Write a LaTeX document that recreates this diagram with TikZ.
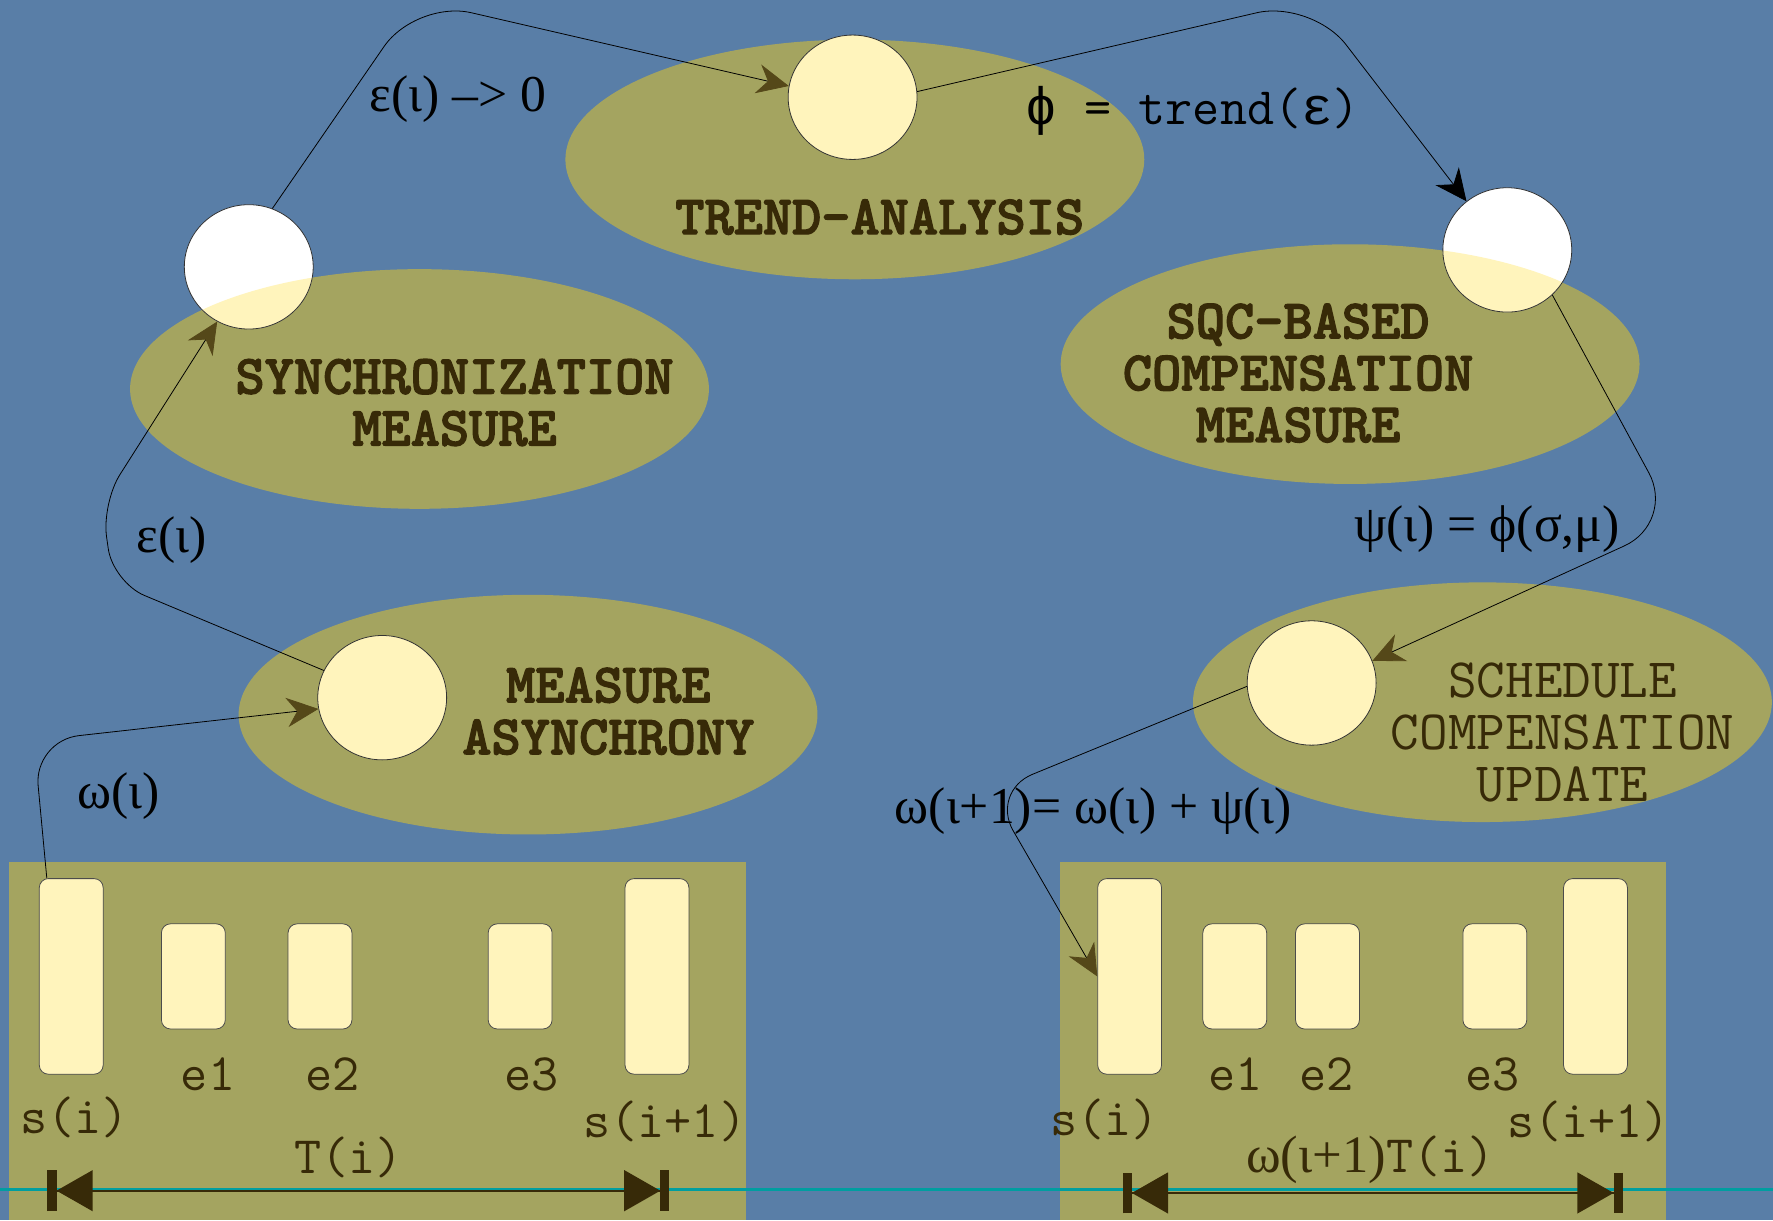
\documentclass[tikz,border=0pt]{standalone}
\usepackage{fontspec}
\setmainfont{Liberation Serif}
\newfontfamily\greekmono{Liberation Mono}
\newfontfamily\titlefont[FakeBold=2.2]{lmmonolt10-bold.otf}
\usetikzlibrary{shapes.geometric,arrows.meta}
\definecolor{slate}{RGB}{89,126,167}
\definecolor{khaki}{RGB}{215,190,50}
\definecolor{pale}{RGB}{255,244,188}
\definecolor{ink}{RGB}{55,42,8}
\definecolor{olivetip}{RGB}{85,72,25}
\definecolor{tealline}{RGB}{0,158,160}

\begin{document}
\begin{tikzpicture}[x=0.02cm,y=-0.02cm,
  blob/.style={ellipse,fill=khaki,fill opacity=0.6,minimum width=10.24cm,minimum height=4.24cm,inner sep=0},
  band/.style={rectangle,fill=khaki,fill opacity=0.6,minimum height=6.34cm,inner sep=0},
  hub/.style={ellipse,draw=black!80,thin,fill=pale,minimum width=2.28cm,minimum height=2.2cm,inner sep=0},
  slot/.style={rectangle,draw=black!70,fill=pale,rounded corners=0.16cm,inner sep=0,minimum width=1.13cm,minimum height=1.86cm},
  tall/.style={slot,minimum height=3.46cm},
  flow/.style={black,thin,rounded corners=1cm,-{Stealth[length=0.56cm,width=0.52cm,color=#1]}},
  flow/.default=olivetip,
  extent/.style={ink,line width=0.04cm,{Bar[width=0.72cm,line width=0.16cm]Triangle[length=0.64cm,width=0.72cm]}-{Triangle[length=0.64cm,width=0.72cm]Bar[width=0.72cm,line width=0.16cm]}},
  tag/.style={font=\fontsize{26}{30}\selectfont},
  monotag/.style={font=\ttfamily\fontsize{26.5}{30}\selectfont},
  title/.style={font=\titlefont\fontsize{28}{26.1}\selectfont,text=ink,align=center},
  slotlabel/.style={font=\ttfamily\fontsize{26.5}{30}\selectfont,text=ink}]
\useasboundingbox (0,0) rectangle (1568,1079);
\clip (0,0) rectangle (1568,1079);
\fill [slate] (0,0) rectangle (1568,1079);

\node[band,minimum width=13.04cm] (leftband) at (334,920.5) {};
\node[band,minimum width=10.72cm] (rightband) at (1205,920.5) {};
\node[blob] (trendblob) at (756,141) {};
\node[blob] (syncblob) at (371,344) {};
\node[blob] (sqcblob) at (1194,322) {};
\node[blob] (asyblob) at (467,632) {};
\node[blob] (schedblob) at (1311,621) {};

\node[hub] (trendhub) at (754,86) {};
\node[hub,fill=white,path picture={\fill[pale] (syncblob) ellipse [x radius=5.12cm,y radius=2.12cm];}] (synchub) at (220,236) {};
\node[hub,fill=white,path picture={\fill[pale] (sqcblob) ellipse [x radius=5.14cm,y radius=2.12cm];}] (sqchub) at (1333,221) {};
\node[hub] (asyhub) at (338,617) {};
\node[hub] (schedhub) at (1160,604) {};

\node[tall] (lsi) at (63,863.5) {};
\node[slot] (le1) at (171,863.5) {};
\node[slot] (le2) at (283,863.5) {};
\node[slot] (le3) at (460,863.5) {};
\node[tall] (lsn) at (581,863.5) {};
\node[tall] (rsi) at (999,863.5) {};
\node[slot] (re1) at (1092,863.5) {};
\node[slot] (re2) at (1174,863.5) {};
\node[slot] (re3) at (1322,863.5) {};
\node[tall] (rsn) at (1411,863.5) {};

\draw[flow,rounded corners=0.8cm] ([xshift=0.14cm]lsi.north west) -- (30,655) -- (asyhub.190);
\draw[flow,rounded corners=0.6cm] (asyhub.155) -- (100,515) -- (90,445) -- (synchub.240);
\draw[flow] (synchub.68) -- (368,0) -- (trendhub.170);
\draw[flow=black] (trendhub.5) -- (1160,0) -- (sqchub.130);
\draw[flow] (sqchub.-45) -- (1482,462) -- (schedhub.20);
\draw[flow,rounded corners=0.8cm] (schedhub.183) -- (876,700) -- (rsi.west);

\draw[tealline,line width=0.06cm] (0,1052) -- (1568,1052);
\coordinate (lspanl) at (42,1053);
\coordinate (lspanr) at (592,1053);
\coordinate (rspanl) at (993,1055);
\coordinate (rspanr) at (1435,1055);
\draw[extent] (lspanl) -- (lspanr);
\draw[extent] (rspanl) -- (rspanr);

\node[tag] (epszero) at (405,88) {ε(ι) –> 0};
\node[tag] (epsval) at (152,478) {ε(ι)};
\node[tag] (omegaval) at (105,704) {ω(ι)};
\node[monotag] (trendeq) at (1055,98) {{\greekmono ϕ} = trend({\greekmono ε})};
\node[tag] (psieq) at (1315,468) {ψ(ι) = ϕ(σ,μ)};
\node[tag] (omegaeq) at (967,717) {ω(ι+1)= ω(ι) + ψ(ι)};

\node[title] (trendtext) at (778,192) {TREND-ANALYSIS};
\node[title] (synctext) at (402,356) {SYNCHRONIZATION\\MEASURE};
\node[title] (sqctext) at (1148,330) {SQC-BASED\\COMPENSATION\\MEASURE};
\node[title] (asytext) at (538,629) {MEASURE\\ASYNCHRONY};
\node[title,font=\ttfamily\fontsize{28}{26.1}\selectfont] (schedtext) at (1382,648) {SCHEDULE\\COMPENSATION\\UPDATE};

\node[slotlabel] (le1text) at (184,950) {e1};
\node[slotlabel] (le2text) at (294,950) {e2};
\node[slotlabel] (le3text) at (470,950) {e3};
\node[slotlabel] (lsitext) at (66,988) {s(i)};
\node[slotlabel] (lsntext) at (588,992) {s(i+1)};
\node[slotlabel] (lperiod) at (308,1024) {T(i)};
\node[slotlabel] (re1text) at (1093,950) {e1};
\node[slotlabel] (re2text) at (1173,950) {e2};
\node[slotlabel] (re3text) at (1320,950) {e3};
\node[slotlabel] (rsitext) at (977,990) {s(i)};
\node[slotlabel] (rsntext) at (1405,992) {s(i+1)};
\node[slotlabel] (rperiod) at (1212,1026) {\textrm{ω(ι+1)}T(i)};
\end{tikzpicture}
\end{document}
